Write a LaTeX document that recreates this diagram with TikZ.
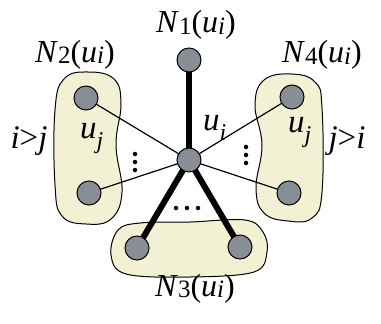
\documentclass[tikz,border=0pt]{standalone}
\usepackage{fontspec}
\setmainfont{Liberation Serif}
\usetikzlibrary{backgrounds}
\definecolor{blobfill}{HTML}{F3F1D3}
\definecolor{nodefill}{HTML}{878E96}
% subscript for set labels: slightly smaller, barely lowered
\newcommand\sbs[1]{\raisebox{-0.05em}{\fontsize{25}{25}\selectfont #1}}
% subscript for vertex labels: lowered
\newcommand\vsb[1]{\raisebox{-0.32em}{\fontsize{24}{24}\selectfont\itshape #1}}
\tikzset{
  vert/.style={circle,draw=black,line width=1pt,fill=nodefill,minimum size=24pt,inner sep=0pt},
  blob/.style={draw=black,line width=1pt,fill=blobfill},
  thick edge/.style={line width=6pt,black},
  thin edge/.style={line width=1.2pt,black},
  lbl/.style={inner sep=0pt,anchor=base,font=\fontsize{32}{32}\selectfont},
  vlbl/.style={inner sep=0pt,anchor=base west,font=\fontsize{33}{33}\selectfont},
  rel/.style={inner sep=0pt,anchor=base,font=\fontsize{33}{33}\selectfont},
  dotc/.style={circle,fill=black,inner sep=0pt,minimum size=4.5pt}
}
\begin{document}
\begin{tikzpicture}[x=1pt,y=-1pt]
\useasboundingbox (0,0) rectangle (381,324);
% nodes
\node[vert] (c) at (189,160) {};
\node[vert] (n1) at (189,60) {};
\node[vert] (lt) at (86,98) {};
\node[vert] (lb) at (89,193) {};
\node[vert] (rt) at (292,97) {};
\node[vert] (rb) at (289,193) {};
\node[vert] (bl) at (137,248) {};
\node[vert] (br) at (240,247) {};
\begin{pgfonlayer}{background}
% blobs
\draw[blob] plot[smooth cycle,tension=0.7] coordinates {(88,72) (114,79) (121,104) (116,145) (122,192) (111,219) (86,224) (62,216) (55,185) (55,110) (64,79)};
\draw[blob] plot[smooth cycle,tension=0.7] coordinates {(291,74) (315,82) (322,108) (322,192) (312,218) (288,221) (264,213) (256,188) (262,145) (255,105) (264,80)};
\draw[blob] plot[smooth cycle,tension=0.6] coordinates {(140,223) (190,222) (245,220) (263,232) (267,252) (254,272) (190,277) (126,274) (111,255) (118,230)};
% edges
\draw[thin edge] (c.center) -- (lt.center);
\draw[thin edge] (c.center) -- (lb.center);
\draw[thin edge] (c.center) -- (rt.center);
\draw[thin edge] (c.center) -- (rb.center);
\draw[thick edge] (c.center) -- (n1.center);
\draw[thick edge] (c.center) -- (bl.center);
\draw[thick edge] (c.center) -- (br.center);
\end{pgfonlayer}
% dots
\node[dotc] (dl1) at (135,154) {};
\node[dotc] (dl2) at (135,162) {};
\node[dotc] (dl3) at (135,170) {};
\node[dotc] (dr1) at (246,147) {};
\node[dotc] (dr2) at (246,155) {};
\node[dotc] (dr3) at (246,163) {};
\node[dotc] (dh1) at (176,208) {};
\node[dotc] (dh2) at (187,208) {};
\node[dotc] (dh3) at (198,208) {};
% labels
\node[lbl] (l1) at (196,33) {\textit{N}\sbs{1}(\textit{u}\sbs{\textit{i}})};
\node[lbl] (l2) at (75,62) {\textit{N}\sbs{2}(\textit{u}\sbs{\textit{i}})};
\node[lbl] (l4) at (322,63) {\textit{N}\sbs{4}(\textit{u}\sbs{\textit{i}})};
\node[lbl] (l3) at (195,296) {\textit{N}\sbs{3}(\textit{u}\sbs{\textit{i}})};
\node[rel] (ij) at (29,148) {\textit{i}>\textit{j}};
\node[rel] (ji) at (347,148) {\textit{j}>\textit{i}};
\node[vlbl] (uj1) at (80,138) {\textit{u}\vsb{j}};
\node[vlbl] (uj2) at (288,132) {\textit{u}\vsb{j}};
\node[vlbl] (ui) at (203,130) {\textit{u}\vsb{i}};
\end{tikzpicture}
\end{document}
